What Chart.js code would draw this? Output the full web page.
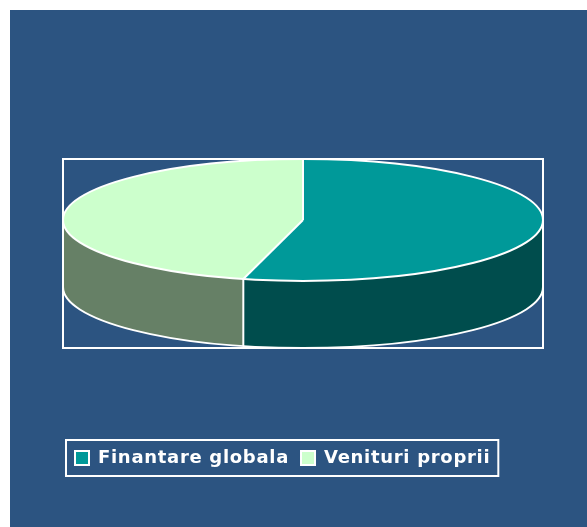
<!DOCTYPE html>
<html>
<head>
<meta charset="utf-8">
<script src="https://cdn.jsdelivr.net/npm/chart.js@4/dist/chart.umd.min.js"></script>
<style>
    html, body { margin: 0; padding: 0; background: #ffffff; }
    #wrap {
        position: absolute; left: 10px; top: 10px;
        width: 577px; height: 517px; background: #2C5481;
    }
</style>
</head>
<body>
<div id="wrap"><canvas id="pieChart" width="577" height="517"></canvas></div>
<script>
    // date grafic
    const labels = ['Finantare globala', 'Venituri proprii'];
    const values = [54, 46];
    const topColors = ['#009999', '#CCFFCC'];
    const sideColors = ['#004D4D', '#668066'];

    const spacing = '0.7px';

    // plugin: pie 3D (elipsa + perete lateral), derivat din arcele Chart.js
    const pie3d = {
        id: 'pie3d',
        geom(chart) {
            const a = chart.chartArea;
            const rx = a.width / 2;
            const ry = rx * 0.254;
            return { cx: (a.left + a.right) / 2, cy: a.top + ry, rx: rx, ry: ry, depth: a.height - 2 * ry };
        },
        beforeUpdate(chart) { chart.ctx.letterSpacing = spacing; },
        beforeLayout(chart) { chart.ctx.letterSpacing = spacing; },
        beforeDraw(chart) { chart.ctx.letterSpacing = spacing; },
        beforeDatasetsDraw(chart) {
            const ctx = chart.ctx;
            const g = this.geom(chart);
            const arcs = chart.getDatasetMeta(0).data;

            // peretii laterali (doar partea din fata, 0..PI)
            arcs.forEach((arc, i) => {
                [0, 2 * Math.PI].forEach(off => {
                    const s = Math.max(arc.startAngle, off);
                    const e = Math.min(arc.endAngle, off + Math.PI);
                    if (e <= s) return;
                    ctx.beginPath();
                    ctx.ellipse(g.cx, g.cy, g.rx, g.ry, 0, s, e);
                    ctx.ellipse(g.cx, g.cy + g.depth, g.rx, g.ry, 0, e, s, true);
                    ctx.closePath();
                    ctx.fillStyle = sideColors[i];
                    ctx.fill();
                });
            });

            // fata de sus: arcele Chart.js turtite in elipsa
            const arc0 = arcs[0];
            const R = arc0.outerRadius;
            ctx.save();
            ctx.translate(g.cx, g.cy);
            ctx.scale(g.rx / R, g.ry / R);
            ctx.translate(-arc0.x, -arc0.y);
        },
        afterDatasetsDraw(chart) {
            const ctx = chart.ctx;
            ctx.restore();
            const g = this.geom(chart);
            const arcs = chart.getDatasetMeta(0).data;

            ctx.save();
            ctx.strokeStyle = '#ffffff';
            ctx.lineWidth = 2;
            ctx.lineJoin = 'round';

            // contur fata de sus
            ctx.beginPath();
            ctx.ellipse(g.cx, g.cy, g.rx, g.ry, 0, 0, 2 * Math.PI);
            ctx.stroke();
            // contur jos
            ctx.beginPath();
            ctx.ellipse(g.cx, g.cy + g.depth, g.rx, g.ry, 0, 0, Math.PI);
            ctx.stroke();

            arcs.forEach(arc => {
                const t = arc.startAngle;
                const px = g.cx + g.rx * Math.cos(t);
                const py = g.cy + g.ry * Math.sin(t);
                ctx.beginPath();
                ctx.moveTo(g.cx, g.cy);
                ctx.lineTo(px, py);
                ctx.stroke();
                const tm = ((t % (2 * Math.PI)) + 2 * Math.PI) % (2 * Math.PI);
                if (tm > 0 && tm < Math.PI) {
                    ctx.beginPath();
                    ctx.moveTo(px, py);
                    ctx.lineTo(px, py + g.depth);
                    ctx.stroke();
                }
            });
            // margini verticale stanga / dreapta
            ctx.beginPath();
            ctx.moveTo(g.cx + g.rx, g.cy);
            ctx.lineTo(g.cx + g.rx, g.cy + g.depth);
            ctx.moveTo(g.cx - g.rx, g.cy);
            ctx.lineTo(g.cx - g.rx, g.cy + g.depth);
            ctx.stroke();
            ctx.restore();
        },
        afterDraw(chart) {
            const ctx = chart.ctx;
            const a = chart.chartArea;
            ctx.save();
            ctx.strokeStyle = '#ffffff';
            ctx.lineWidth = 2;
            // chenar zona grafic
            ctx.strokeRect(a.left, a.top, a.width, a.height);
            // chenar legenda
            const hb = chart.legend.legendHitBoxes;
            if (hb && hb.length) {
                const first = hb[0], last = hb[hb.length - 1];
                const l = first.left - 9;
                const r = last.left + last.width + 8;
                const t = first.top - 9;
                const b = first.top + first.height + 9;
                ctx.strokeRect(l, t, r - l, b - t);
            }
            ctx.restore();
        }
    };

    const ctx = document.getElementById('pieChart').getContext('2d');
    const pieChart = new Chart(ctx, {
        type: 'pie',
        data: {
            labels: labels,
            datasets: [{
                data: values,
                backgroundColor: topColors,
                borderWidth: 0
            }]
        },
        options: {
            responsive: false,
            animation: false,
            layout: {
                padding: { left: 53, top: 149, right: 44, bottom: 50 }
            },
            plugins: {
                tooltip: { enabled: false },
                legend: {
                    position: 'bottom',
                    align: 'start',
                    title: {
                        display: true,
                        text: '',
                        font: { size: 10, lineHeight: 1 },
                        padding: { top: 79, bottom: 0 }
                    },
                    labels: {
                        color: '#ffffff',
                        boxWidth: 14,
                        boxHeight: 14,
                        padding: 12,
                        font: { family: '"DejaVu Sans", Verdana, sans-serif', size: 18, weight: 'bold' },
                        generateLabels: function (chart) {
                            const items = Chart.overrides.pie.plugins.legend.labels.generateLabels(chart);
                            items.forEach(it => {
                                it.strokeStyle = '#ffffff';
                                it.lineWidth = 2;
                            });
                            return items;
                        }
                    }
                }
            }
        },
        plugins: [pie3d]
    });
</script>
</body>
</html>
